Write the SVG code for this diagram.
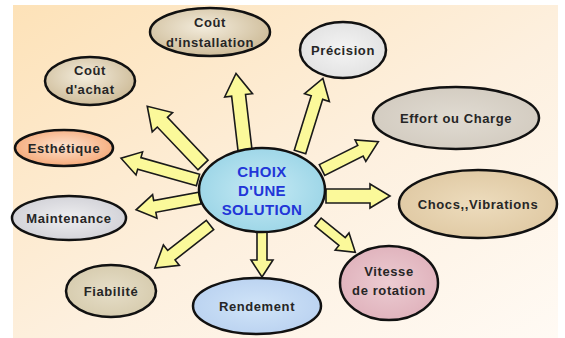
<svg xmlns="http://www.w3.org/2000/svg" width="565" height="338" viewBox="0 0 565 338">
<defs>
<linearGradient id="bg" x1="0" y1="0" x2="1" y2="1">
<stop offset="0" stop-color="#fde2b8"/>
<stop offset="0.55" stop-color="#fdf0df"/>
<stop offset="1" stop-color="#fffaf4"/>
</linearGradient>
<radialGradient id="gTan" cx="0.45" cy="0.4" r="0.7">
<stop offset="0" stop-color="#f3ecdc"/>
<stop offset="1" stop-color="#c8b48e"/>
</radialGradient>
<radialGradient id="gGray" cx="0.5" cy="0.5" r="0.7">
<stop offset="0" stop-color="#f4f4f4"/>
<stop offset="1" stop-color="#dcdcdc"/>
</radialGradient>
<radialGradient id="gStone" cx="0.5" cy="0.5" r="0.7">
<stop offset="0" stop-color="#e0dbd2"/>
<stop offset="1" stop-color="#cfc7bb"/>
</radialGradient>
<radialGradient id="gOrange" cx="0.5" cy="0.45" r="0.7">
<stop offset="0" stop-color="#fde3cf"/>
<stop offset="1" stop-color="#f39a62"/>
</radialGradient>
<radialGradient id="gBlue" cx="0.5" cy="0.5" r="0.7">
<stop offset="0" stop-color="#c6eaf4"/>
<stop offset="1" stop-color="#8fcfe3"/>
</radialGradient>
<radialGradient id="gSand" cx="0.5" cy="0.5" r="0.7">
<stop offset="0" stop-color="#eddcbd"/>
<stop offset="1" stop-color="#dcc49c"/>
</radialGradient>
<radialGradient id="gMarble" cx="0.5" cy="0.5" r="0.7">
<stop offset="0" stop-color="#eeeef0"/>
<stop offset="1" stop-color="#c9c9d0"/>
</radialGradient>
<radialGradient id="gBeige" cx="0.5" cy="0.5" r="0.7">
<stop offset="0" stop-color="#e6dec8"/>
<stop offset="1" stop-color="#d2c6a6"/>
</radialGradient>
<radialGradient id="gLav" cx="0.5" cy="0.5" r="0.7">
<stop offset="0" stop-color="#d0e4f8"/>
<stop offset="1" stop-color="#b4cdee"/>
</radialGradient>
<radialGradient id="gPink" cx="0.5" cy="0.5" r="0.7">
<stop offset="0" stop-color="#ecccd2"/>
<stop offset="1" stop-color="#dcaab5"/>
</radialGradient>
</defs>
<style>
.node { stroke: #111; stroke-width: 2.5; }
.arrow { fill: #fbf99a; stroke: #1a1a1a; stroke-width: 1.6; stroke-linejoin: miter; }
.lbl { font-family: "Liberation Sans", "DejaVu Sans", sans-serif; font-size: 13px; font-weight: bold; fill: #262626; text-anchor: middle; letter-spacing: 0.6px; }
.center { font-family: "Liberation Sans", "DejaVu Sans", sans-serif; font-size: 15px; font-weight: bold; fill: #2236d8; text-anchor: middle; letter-spacing: 0.4px; }
</style>
<rect x="0" y="0" width="565" height="338" fill="#ffffff"/>
<rect x="13" y="5" width="545" height="333" fill="url(#bg)"/>

<g id="connectors">
<path class="arrow" transform="translate(245,150) rotate(-96.7)" d="M0,-7 L55,-7 L55,-14 L77,0 L55,14 L55,7 L0,7 Z"/>
<path class="arrow" transform="translate(203,165) rotate(-133.5)" d="M0,-7 L59,-7 L59,-14 L81,0 L59,14 L59,7 L0,7 Z"/>
<path class="arrow" transform="translate(198,180) rotate(-164.2)" d="M0,-6 L61,-6 L61,-12 L80,0 L61,12 L61,6 L0,6 Z"/>
<path class="arrow" transform="translate(200,198) rotate(169.5)" d="M0,-6 L46,-6 L46,-12 L65,0 L46,12 L46,6 L0,6 Z"/>
<path class="arrow" transform="translate(210,225) rotate(142)" d="M0,-6 L49,-6 L49,-13 L70,0 L49,13 L49,6 L0,6 Z"/>
<path class="arrow" transform="translate(262,232) rotate(90)" d="M0,-5 L28,-5 L28,-11 L45,0 L28,11 L28,5 L0,5 Z"/>
<path class="arrow" transform="translate(318,222) rotate(39)" d="M0,-5 L31,-5 L31,-11 L48,0 L31,11 L31,5 L0,5 Z"/>
<path class="arrow" transform="translate(326,196) rotate(0)" d="M0,-7 L44,-7 L44,-12 L64,0 L44,12 L44,7 L0,7 Z"/>
<path class="arrow" transform="translate(322,170) rotate(-26.6)" d="M0,-6 L43,-6 L43,-12 L63,0 L43,12 L43,6 L0,6 Z"/>
<path class="arrow" transform="translate(300,152) rotate(-72.7)" d="M0,-6 L57,-6 L57,-13 L77,0 L57,13 L57,6 L0,6 Z"/>
</g>

<g id="cout-installation">
<ellipse class="node" cx="210" cy="32" rx="60" ry="24" fill="url(#gTan)"/>
<text class="lbl" x="210" y="27">Coût</text>
<text class="lbl" x="210" y="47">d'installation</text>
</g>
<g id="cout-achat">
<ellipse class="node" cx="90" cy="81" rx="45" ry="24" fill="url(#gTan)"/>
<text class="lbl" x="90" y="75">Coût</text>
<text class="lbl" x="90" y="94">d'achat</text>
</g>
<g id="precision">
<ellipse class="node" cx="343" cy="50" rx="43" ry="28" fill="url(#gGray)"/>
<text class="lbl" x="343" y="55">Précision</text>
</g>
<g id="effort">
<ellipse class="node" cx="456" cy="118" rx="83" ry="31" fill="url(#gStone)"/>
<text class="lbl" x="456" y="123">Effort ou Charge</text>
</g>
<g id="esthetique">
<ellipse class="node" cx="64" cy="148" rx="49" ry="18" fill="url(#gOrange)"/>
<text class="lbl" x="64" y="153">Esthétique</text>
</g>
<g id="choix">
<ellipse class="node" cx="262" cy="190" rx="63" ry="42" fill="url(#gBlue)"/>
<text class="center" x="262" y="177">CHOIX</text>
<text class="center" x="262" y="196">D'UNE</text>
<text class="center" x="262" y="215">SOLUTION</text>
</g>
<g id="chocs">
<ellipse class="node" cx="478" cy="204" rx="79" ry="34" fill="url(#gSand)"/>
<text class="lbl" x="478" y="209">Chocs,,Vibrations</text>
</g>
<g id="maintenance">
<ellipse class="node" cx="69" cy="218" rx="57" ry="22" fill="url(#gMarble)"/>
<text class="lbl" x="69" y="223">Maintenance</text>
</g>
<g id="fiabilite">
<ellipse class="node" cx="111" cy="291" rx="45" ry="26" fill="url(#gBeige)"/>
<text class="lbl" x="111" y="296">Fiabilité</text>
</g>
<g id="rendement">
<ellipse class="node" cx="257" cy="306" rx="64" ry="28" fill="url(#gLav)"/>
<text class="lbl" x="257" y="311">Rendement</text>
</g>
<g id="vitesse">
<ellipse class="node" cx="389" cy="283" rx="49" ry="37" fill="url(#gPink)"/>
<text class="lbl" x="389" y="276">Vitesse</text>
<text class="lbl" x="389" y="295">de rotation</text>
</g>
</svg>
